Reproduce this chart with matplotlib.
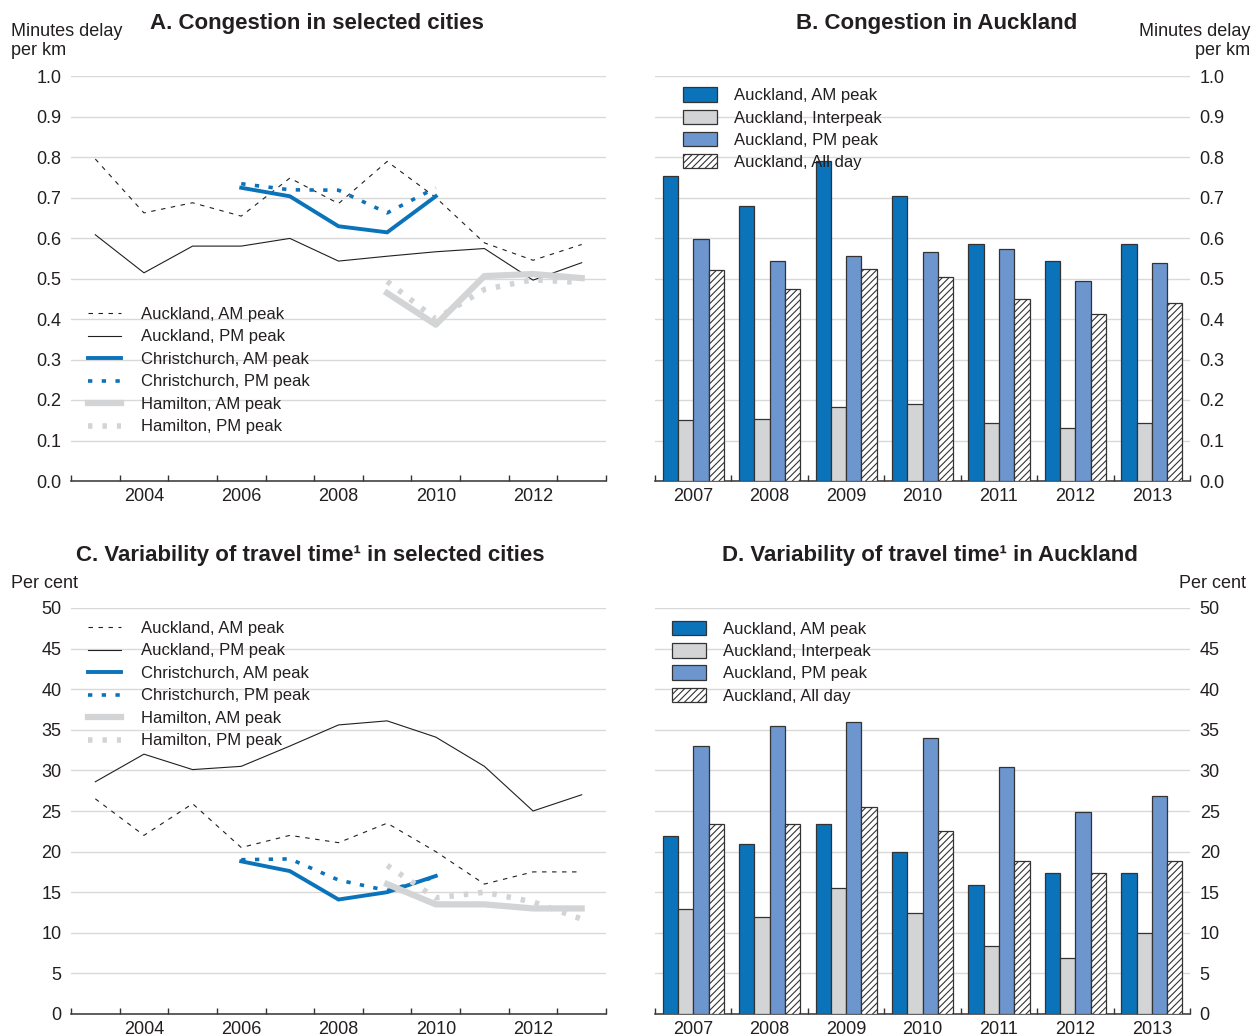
import matplotlib
matplotlib.use('Agg')
import matplotlib.pyplot as plt
import numpy as np

# --- Data ---
years = [2003, 2004, 2005, 2006, 2007, 2008, 2009, 2010, 2011, 2012, 2013]
chc_years = [2006, 2007, 2008, 2009, 2010]
ham_years = [2009, 2010, 2011, 2012, 2013]

# Panel A: congestion, minutes delay per km
akl_am_a = [0.795, 0.662, 0.687, 0.654, 0.748, 0.685, 0.789, 0.700, 0.588, 0.545, 0.584]
akl_pm_a = [0.608, 0.514, 0.580, 0.580, 0.599, 0.543, 0.555, 0.566, 0.574, 0.496, 0.539]
chc_am_a = [0.724, 0.703, 0.629, 0.614, 0.703]
chc_pm_a = [0.734, 0.719, 0.718, 0.662, 0.724]
ham_am_a = [0.464, 0.386, 0.506, 0.511, 0.501]
ham_pm_a = [0.493, 0.400, 0.473, 0.497, 0.490]

# Panel C: variability of travel time, per cent
akl_am_c = [26.5, 22.0, 25.9, 20.5, 22.0, 21.1, 23.5, 20.0, 16.0, 17.5, 17.5]
akl_pm_c = [28.6, 32.0, 30.1, 30.5, 33.0, 35.6, 36.1, 34.1, 30.5, 25.0, 27.0]
chc_am_c = [18.8, 17.6, 14.1, 15.0, 17.0]
chc_pm_c = [19.0, 19.1, 16.5, 15.2, 16.9]
ham_am_c = [16.0, 13.5, 13.5, 13.0, 13.0]
ham_pm_c = [18.3, 14.3, 15.0, 13.8, 11.7]

# Panels B and D: Auckland bars
bar_years = ['2007', '2008', '2009', '2010', '2011', '2012', '2013']
b_am = [0.753, 0.680, 0.790, 0.704, 0.585, 0.543, 0.585]
b_inter = [0.150, 0.154, 0.183, 0.191, 0.144, 0.130, 0.144]
b_pm = [0.598, 0.543, 0.555, 0.565, 0.574, 0.495, 0.539]
b_all = [0.520, 0.474, 0.524, 0.504, 0.449, 0.413, 0.440]

d_am = [21.9, 20.9, 23.4, 20.0, 15.9, 17.4, 17.4]
d_inter = [12.9, 12.0, 15.5, 12.5, 8.4, 6.9, 10.0]
d_pm = [33.0, 35.5, 35.9, 34.0, 30.4, 24.9, 26.9]
d_all = [23.4, 23.4, 25.5, 22.5, 18.9, 17.4, 18.9]

# --- Style ---
plt.rcParams['font.family'] = ['Liberation Sans', 'DejaVu Sans']
plt.rcParams['hatch.linewidth'] = 0.8
plt.rcParams['hatch.color'] = '#333333'
txt = '#231f20'
dark_blue = '#0b73ba'
light_grey = '#d3d4d6'
mid_blue = '#6d96cf'
grid_col = '#d9d9d9'
W, H = 1259, 1036

fig = plt.figure(figsize=(W / 100, H / 100), dpi=100)


def px_axes(x0, x1, ytop, ybot):
    return fig.add_axes([x0 / W, 1 - ybot / H, (x1 - x0) / W, (ybot - ytop) / H])


axA = px_axes(71, 606, 76, 481)
axB = px_axes(655, 1190, 76, 481)
axC = px_axes(71, 606, 608, 1014)
axD = px_axes(655, 1190, 608, 1014)


def base_style(ax, right=False):
    for s in ['top', 'left', 'right']:
        ax.spines[s].set_visible(False)
    ax.spines['bottom'].set_color('#333333')
    ax.spines['bottom'].set_linewidth(1.1)
    ax.yaxis.grid(True, color=grid_col, lw=1.0)
    ax.set_axisbelow(True)
    ax.tick_params(axis='y', length=0, pad=7, labelsize=13, labelcolor=txt)
    ax.tick_params(axis='x', which='major', length=0, pad=5, labelsize=13, labelcolor=txt)
    ax.tick_params(axis='x', which='minor', direction='in', length=4, width=1.0, color='#333333')
    if right:
        ax.yaxis.tick_right()


def line_panel(ax, am, pm, cam, cpm, ham, hpm, ylim, yticks, fmt, leg_y):
    ax.plot(years, am, color=txt, lw=0.8, ls=(0, (4, 5)), label='Auckland, AM peak')
    ax.plot(years, pm, color=txt, lw=0.8, label='Auckland, PM peak')
    ax.plot(chc_years, cam, color=dark_blue, lw=2.8, solid_joinstyle='miter', label='Christchurch, AM peak')
    ax.plot(chc_years, cpm, color=dark_blue, lw=2.6, ls=(0, (1.2, 2.6)), dash_capstyle='butt',
            label='Christchurch, PM peak')
    ax.plot(ham_years, ham, color=light_grey, lw=4.5, label='Hamilton, AM peak')
    ax.plot(ham_years, hpm, color=light_grey, lw=4.0, ls=(0, (0.8, 1.8)), dash_capstyle='butt',
            label='Hamilton, PM peak')
    ax.set_xlim(2002.5, 2013.5)
    ax.set_xticks([2004, 2006, 2008, 2010, 2012])
    ax.set_xticks(np.arange(2002.5, 2014, 1.0), minor=True)
    ax.set_ylim(*ylim)
    ax.set_yticks(yticks)
    ax.set_yticklabels([fmt.format(v) for v in yticks])
    base_style(ax)
    ax.legend(loc='upper left', bbox_to_anchor=(0.032, leg_y), frameon=False, fontsize=12,
              handlelength=2.0, handletextpad=1.2, labelspacing=0.45, borderaxespad=0,
              borderpad=0, labelcolor=txt)


def bar_panel(ax, am, inter, pm, alld, ylim, yticks, fmt, leg_x, leg_y):
    x = np.arange(len(bar_years))
    w = 0.2
    kw = dict(width=w, edgecolor='#333333', linewidth=0.9, zorder=3)
    ax.bar(x - 1.5 * w, am, color=dark_blue, label='Auckland, AM peak', **kw)
    ax.bar(x - 0.5 * w, inter, color=light_grey, label='Auckland, Interpeak', **kw)
    ax.bar(x + 0.5 * w, pm, color=mid_blue, label='Auckland, PM peak', **kw)
    ax.bar(x + 1.5 * w, alld, color='white', hatch='/////', label='Auckland, All day', **kw)
    ax.set_xlim(-0.5, len(bar_years) - 0.5)
    ax.set_xticks(x)
    ax.set_xticklabels(bar_years)
    ax.set_xticks(np.arange(-0.5, len(bar_years), 1.0), minor=True)
    ax.set_ylim(*ylim)
    ax.set_yticks(yticks)
    ax.set_yticklabels([fmt.format(v) for v in yticks])
    base_style(ax, right=True)
    ax.legend(loc='upper left', bbox_to_anchor=(leg_x, leg_y), frameon=False, fontsize=12,
              handlelength=2.05, handleheight=0.95, handletextpad=1.0, labelspacing=0.38,
              borderaxespad=0, borderpad=0, labelcolor=txt)


line_panel(axA, akl_am_a, akl_pm_a, chc_am_a, chc_pm_a, ham_am_a, ham_pm_a,
           (0, 1.0), np.round(np.arange(0, 1.01, 0.1), 1), '{:.1f}', 0.43)
line_panel(axC, akl_am_c, akl_pm_c, chc_am_c, chc_pm_c, ham_am_c, ham_pm_c,
           (0, 50), np.arange(0, 51, 5), '{:.0f}', 0.968)
bar_panel(axB, b_am, b_inter, b_pm, b_all, (0, 1.0), np.round(np.arange(0, 1.01, 0.1), 1),
          '{:.1f}', 0.052, 0.972)
bar_panel(axD, d_am, d_inter, d_pm, d_all, (0, 50), np.arange(0, 51, 5), '{:.0f}', 0.032, 0.968)


# --- Titles and unit labels ---
def ftext(x, y, s, **kw):
    fig.text(x / W, 1 - y / H, s, color=txt, **kw)


ftext(317, 23, 'A. Congestion in selected cities', fontsize=16, fontweight='bold', ha='center', va='center')
ftext(937, 23, 'B. Congestion in Auckland', fontsize=16, fontweight='bold', ha='center', va='center')
ftext(310, 555, 'C. Variability of travel time\u00b9 in selected cities', fontsize=16, fontweight='bold',
      ha='center', va='center')
ftext(930, 555, 'D. Variability of travel time\u00b9 in Auckland', fontsize=16, fontweight='bold',
      ha='center', va='center')

ftext(11, 41, 'Minutes delay\nper km', fontsize=13, ha='left', va='center', linespacing=1.1)
ftext(1250, 41, 'Minutes delay\nper km', fontsize=13, ha='right', va='center', linespacing=1.1,
      multialignment='right')
ftext(11, 584, 'Per cent', fontsize=13, ha='left', va='center')
ftext(1246, 584, 'Per cent', fontsize=13, ha='right', va='center')

fig.savefig('out.png', dpi=100)
